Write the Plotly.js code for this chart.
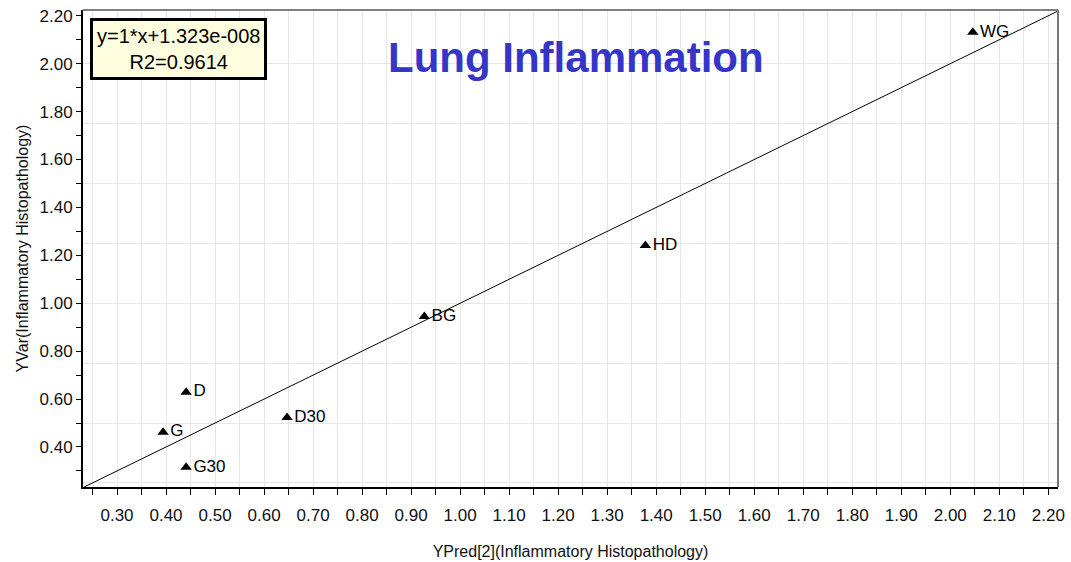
<!DOCTYPE html>
<html>
<head>
<meta charset="utf-8">
<script src="https://cdn.plot.ly/plotly-3.0.1.min.js"></script>
<style>html,body{margin:0;padding:0;background:#fff;}#chart{width:1071px;height:562px;}</style>
</head>
<body>
<div id="chart"></div>
<script>
// Data
const labels = ["WG", "HD", "BG", "D", "G", "D30", "G30"];
const yPred  = [2.046, 1.378, 0.927, 0.441, 0.394, 0.647, 0.441];
const yVar   = [2.131, 1.241, 0.945, 0.629, 0.462, 0.523, 0.315];

// Fit line parameters (from the box)
const fitSlope = 1;
const fitIntercept = 1.323e-8;
const fitText = ["y=1*x+1.323e-008", "R2=0.9614"];

// Axis ranges
const xRange = [0.2306, 2.2198];
const yRange = [0.233, 2.2242];

const lineX = xRange.slice();
const lineY = lineX.map(v => fitSlope * v + fitIntercept);

const fontFam = "Liberation Sans, Arial, sans-serif";

const traces = [
  {
    x: lineX, y: lineY, mode: "lines", type: "scatter",
    line: {color: "#000", width: 1}, hoverinfo: "skip", showlegend: false
  },
  {
    x: yPred, y: yVar, text: labels, mode: "markers+text", type: "scatter",
    textposition: "middle right",
    textfont: {family: fontFam, size: 17, color: "#000"},
    marker: {symbol: "triangle-up", size: 10, color: "#000"},
    showlegend: false
  },
  {
    x: [xRange[0]], y: [yRange[0]], yaxis: "y2", mode: "markers", type: "scatter",
    marker: {opacity: 0}, hoverinfo: "skip", showlegend: false
  }
];

const layout = {
  width: 1071, height: 562,
  margin: {l: 83, r: 13, t: 10, b: 75},
  paper_bgcolor: "#fff", plot_bgcolor: "#fff",
  font: {family: fontFam, color: "#111"},
  xaxis: {
    range: xRange, tick0: 0.3, dtick: 0.1, tickformat: ".2f",
    ticks: "outside", ticklen: 6, tickcolor: "#000", tickwidth: 1,
    ticklabelstandoff: 6,
    showgrid: true, gridcolor: "#e6e6e6", gridwidth: 1,
    minor: {tick0: 0.25, dtick: 0.05, ticks: "outside", ticklen: 6, tickcolor: "#000", showgrid: true, gridcolor: "#e6e6e6"},
    showline: true, linecolor: "#000", linewidth: 2,
    zeroline: false,
    tickfont: {family: fontFam, size: 17, color: "#111"},
    title: {text: "YPred[2](Inflammatory Histopathology)", font: {family: fontFam, size: 16, color: "#111"}, standoff: 21}
  },
  yaxis: {
    range: yRange, tick0: 0.4, dtick: 0.2, tickformat: ".2f",
    ticks: "outside", ticklen: 5, tickcolor: "#000", tickwidth: 1,
    showgrid: false,
    minor: {tick0: 0.3, dtick: 0.1, ticks: "outside", ticklen: 5, tickcolor: "#000", showgrid: false},
    showline: true, linecolor: "#000", linewidth: 2,
    zeroline: false,
    tickfont: {family: fontFam, size: 17, color: "#111"},
    title: {text: "YVar(Inflammatory Histopathology)", font: {family: fontFam, size: 16, color: "#111"}, standoff: 7}
  },
  yaxis2: {
    range: yRange, overlaying: "y", tick0: 0, dtick: 0.25,
    showticklabels: false, ticks: "", showline: false, zeroline: false,
    showgrid: true, gridcolor: "#e6e6e6", gridwidth: 1
  },
  shapes: [
    {type: "line", xref: "paper", yref: "paper", x0: 0, x1: 1, y0: 1, y1: 1, line: {color: "#000", width: 1}},
    {type: "line", xref: "paper", yref: "paper", x0: 1, x1: 1, y0: 0, y1: 1, line: {color: "#777", width: 2}}
  ],
  annotations: [
    {
      text: fitText.join("<br>"), xref: "paper", yref: "paper",
      x: 0.0075, y: 0.983, xanchor: "left", yanchor: "top", showarrow: false,
      align: "center",
      font: {family: fontFam, size: 20, color: "#000"},
      bgcolor: "#ffffdf", bordercolor: "#000", borderwidth: 3, borderpad: 4
    },
    {
      text: "<b>Lung Inflammation</b>", xref: "paper", yref: "paper",
      x: 0.506, y: 0.9, xanchor: "center", yanchor: "middle", showarrow: false,
      font: {family: fontFam, size: 42, color: "#3535c8"}
    }
  ]
};

Plotly.newPlot("chart", traces, layout, {displayModeBar: false, staticPlot: true});
</script>
</body>
</html>
